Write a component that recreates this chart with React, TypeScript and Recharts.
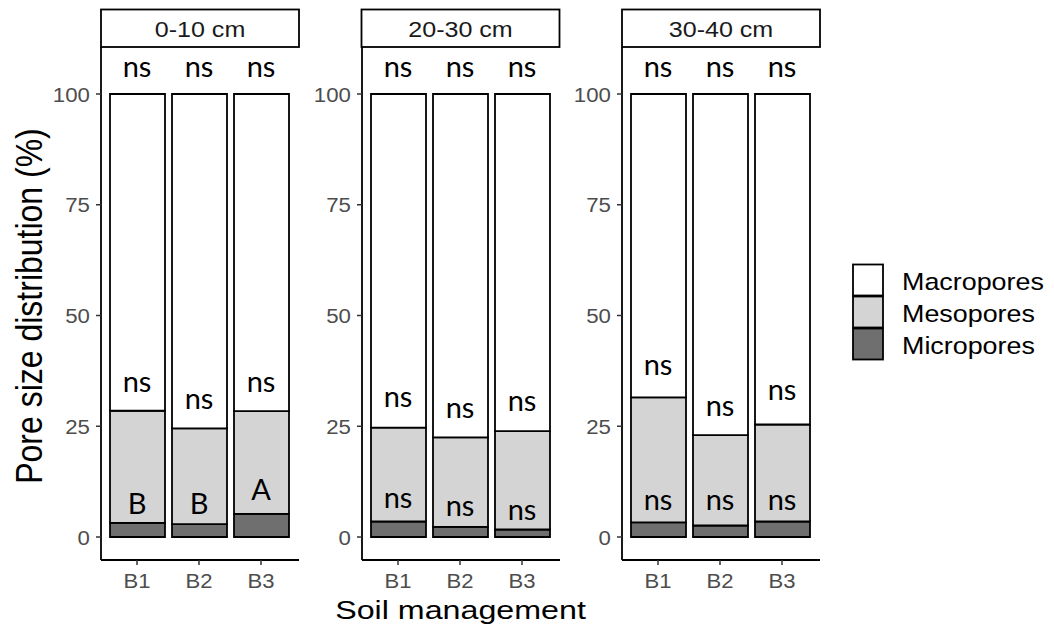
import React from 'react';
import { ComposedChart, Bar, Scatter, XAxis, YAxis } from 'recharts';

// Sampling depths (one facet each) and soil management systems
const depths = ['0-10 cm', '20-30 cm', '30-40 cm'];
const treatments = ['B1', 'B2', 'B3'];

// Pore size classes, % of total porosity, per depth then per treatment
const microporesPct = [
  [3.2, 2.9, 5.2],
  [3.5, 2.3, 1.7],
  [3.3, 2.6, 3.5],
];
const mesoporesPct = [
  [25.3, 21.6, 23.2],
  [21.2, 20.2, 22.2],
  [28.2, 20.4, 21.9],
];
const macroporesPct = [
  [71.5, 75.5, 71.6],
  [75.3, 77.5, 76.1],
  [68.5, 77.0, 74.6],
];

// Mean comparison letters
const totalLetters = [
  ['ns', 'ns', 'ns'],
  ['ns', 'ns', 'ns'],
  ['ns', 'ns', 'ns'],
];
const macroLetters = [
  ['ns', 'ns', 'ns'],
  ['ns', 'ns', 'ns'],
  ['ns', 'ns', 'ns'],
];
const mesoLetters = [
  ['B', 'B', 'A'],
  ['ns', 'ns', 'ns'],
  ['ns', 'ns', 'ns'],
];
// Height (in % units) at which each letter sits
const totalLetterAt = [
  [103.8, 103.8, 103.8],
  [103.8, 103.8, 103.8],
  [103.8, 103.8, 103.8],
];
const macroLetterAt = [
  [32.7, 28.9, 32.7],
  [29.4, 26.8, 28.5],
  [36.6, 27.4, 30.9],
];
const mesoLetterAt = [
  [5.3, 5.3, 8.4],
  [6.6, 4.8, 3.8],
  [6.1, 6.1, 6.1],
];

const yTicks = [0, 25, 50, 75, 100];
const yDomain: [number, number] = [-5.19, 110.61];

const series = [
  { key: 'macro', name: 'Macropores', fill: '#ffffff' },
  { key: 'meso', name: 'Mesopores', fill: '#d4d4d4' },
  { key: 'micro', name: 'Micropores', fill: '#6f6f6f' },
];

const SANS = '"Liberation Sans", Arial, sans-serif';
const LETTER_FONT = 'Lato, "Open Sans", sans-serif';

const PLOT_LEFT = 101;
const PANEL_STEP = 260.5;
const PLOT_WIDTH = 198;
const Y_AXIS_W = 70;
const CHART_H = 627;

function panelRows(p: number) {
  return treatments.map((t, i) => ({
    treatment: t,
    micro: microporesPct[p][i],
    meso: mesoporesPct[p][i],
    macro: macroporesPct[p][i],
    totalTag: totalLetters[p][i],
    totalAt: totalLetterAt[p][i],
    macroTag: macroLetters[p][i],
    macroAt: macroLetterAt[p][i],
    mesoTag: mesoLetters[p][i],
    mesoAt: mesoLetterAt[p][i],
  }));
}

const letterShape = (tagKey: string) => (props: any) => {
  const { cx, cy, payload } = props;
  if (cx == null || cy == null) return <g />;
  return (
    <text x={cx} y={cy} textAnchor="middle" fontFamily={LETTER_FONT} fontSize={29} fill="#000">
      {payload[tagKey]}
    </text>
  );
};

const XTick = (props: any) => {
  const { x, y, payload } = props;
  return (
    <text transform={`translate(${x} ${y + 15}) scale(1.05 1)`} textAnchor="middle" fontSize={21} fontFamily={SANS} fill="#4d4d4d">
      {payload.value}
    </text>
  );
};

const YTick = (props: any) => {
  const { x, y, payload } = props;
  return (
    <text transform={`translate(${x} ${y + 7.6}) scale(1.06 1)`} textAnchor="end" fontSize={21} fontFamily={SANS} fill="#4d4d4d">
      {payload.value}
    </text>
  );
};

function Panel({ p }: { p: number }) {
  const data = panelRows(p);
  const left = PLOT_LEFT + p * PANEL_STEP - Y_AXIS_W;
  return (
    <div style={{ position: 'absolute', left, top: 0 }}>
      <ComposedChart
        width={Y_AXIS_W + PLOT_WIDTH + 2}
        height={CHART_H}
        data={data}
        margin={{ top: 47, right: 2, bottom: 27, left: 0 }}
      >
        <XAxis
          dataKey="treatment"
          type="category"
          height={40}
          padding={{ left: 5, right: 7 }}
          tickSize={5}
          tickMargin={8}
          axisLine={{ stroke: '#000', strokeWidth: 1.8 }}
          tickLine={{ stroke: '#333', strokeWidth: 1.5 }}
          tick={<XTick />}
        />
        <YAxis
          type="number"
          width={Y_AXIS_W}
          domain={yDomain}
          ticks={yTicks}
          allowDataOverflow
          tickSize={5}
          tickMargin={6}
          axisLine={{ stroke: '#000', strokeWidth: 1.8 }}
          tickLine={{ stroke: '#333', strokeWidth: 1.5 }}
          tick={<YTick />}
        />
        <Bar dataKey="micro" stackId="pores" fill="#6f6f6f" stroke="#000" strokeWidth={1.8} barSize={55} isAnimationActive={false} />
        <Bar dataKey="meso" stackId="pores" fill="#d4d4d4" stroke="#000" strokeWidth={1.8} barSize={55} isAnimationActive={false} />
        <Bar dataKey="macro" stackId="pores" fill="#ffffff" stroke="#000" strokeWidth={1.8} barSize={55} isAnimationActive={false} />
        <Scatter dataKey="totalAt" shape={letterShape('totalTag')} isAnimationActive={false} />
        <Scatter dataKey="macroAt" shape={letterShape('macroTag')} isAnimationActive={false} />
        <Scatter dataKey="mesoAt" shape={letterShape('mesoTag')} isAnimationActive={false} />
      </ComposedChart>
    </div>
  );
}

function StretchText(props: {
  x: number; y: number; k?: number; size: number; anchor?: string; fill?: string; rotate?: number; children: React.ReactNode;
}) {
  const { x, y, k = 1, size, anchor = 'middle', fill = '#000', rotate, children } = props;
  const tf = `translate(${x} ${y}) scale(${k} 1)` + (rotate ? ` rotate(${rotate})` : '');
  return (
    <text transform={tf} textAnchor={anchor} fontSize={size} fontFamily={SANS} fill={fill}>
      {children}
    </text>
  );
}

function Overlay() {
  const lastRight = PLOT_LEFT + (depths.length - 1) * PANEL_STEP + PLOT_WIDTH;
  const midX = (PLOT_LEFT + lastRight) / 2;
  return (
    <svg width={1054} height={627} style={{ position: 'absolute', left: 0, top: 0, pointerEvents: 'none' }}>
      {depths.map((d, p) => {
        const x0 = PLOT_LEFT + p * PANEL_STEP;
        return (
          <g key={d}>
            <rect x={x0} y={9.5} width={PLOT_WIDTH} height={37.5} fill="#fff" stroke="#000" strokeWidth={1.8} />
            <StretchText x={x0 + PLOT_WIDTH / 2} y={37.3} k={1.14} size={22} fill="#1a1a1a">{d}</StretchText>
          </g>
        );
      })}
      <StretchText x={42} y={306} k={1.15} size={32} rotate={-90}>Pore size distribution (%)</StretchText>
      <StretchText x={midX} y={619} k={1.24} size={26}>Soil management</StretchText>
      {series.map((s, i) => (
        <g key={s.key}>
          <rect x={853} y={264.5 + i * 32} width={30} height={31} fill={s.fill} stroke="#000" strokeWidth={1.8} />
          <StretchText x={902} y={290 + i * 32} k={1.12} size={24} anchor="start">{s.name}</StretchText>
        </g>
      ))}
    </svg>
  );
}

export default function App() {
  return (
    <div style={{ position: 'absolute', left: 0, top: 0, width: 1054, height: 627, background: '#fff' }}>
      {depths.map((d, p) => (
        <Panel key={d} p={p} />
      ))}
      <Overlay />
    </div>
  );
}
